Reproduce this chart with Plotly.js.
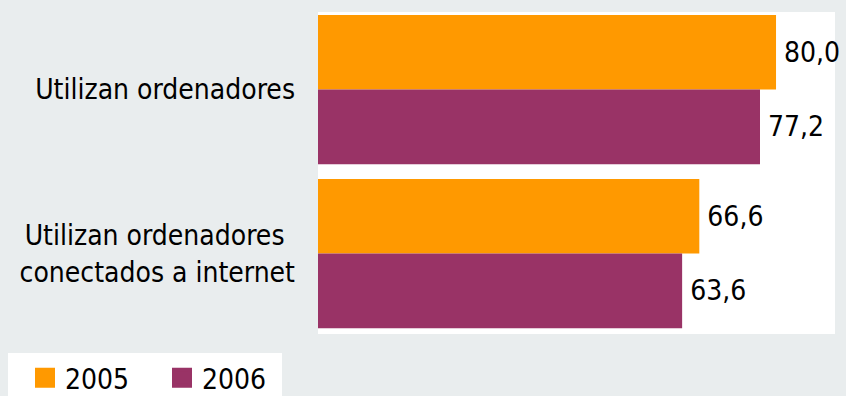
<!DOCTYPE html>
<html>
<head>
<meta charset="utf-8">
<script src="https://cdn.plot.ly/plotly-3.0.1.min.js"></script>
<style>html,body{margin:0;padding:0;background:#e9edee;}#chart{width:846px;height:396px;}</style>
</head>
<body>
<div id="chart"></div>
<script>
const categories = ["Utilizan ordenadores", "Utilizan ordenadores conectados a internet"];
const tickLabels = ["Utilizan ordenadores", "Utilizan ordenadores\u00a0\u200a<br>conectados a internet"];
const seriesNames = ["2005", "2006"];
const values2005 = [80.0, 66.6];
const values2006 = [77.2, 63.6];
const colors = ["#ff9900", "#993366"];

const FONT = "'DejaVu Sans Condensed', 'DejaVu Sans', sans-serif";
const series = [values2005, values2006];

const traces = [];
series.forEach((vals, i) => {
  traces.push({
    type: "bar",
    orientation: "h",
    y: categories,
    x: vals,
    name: seriesNames[i],
    marker: {color: colors[i], line: {width: 0}},
    text: vals,
    texttemplate: "\u2009%{x:.1f}",
    textposition: "outside",
    textfont: {family: FONT, size: 28, color: "#000"},
    constraintext: "none",
    cliponaxis: false,
    showlegend: false,
    hoverinfo: "none"
  });
});
// legend proxies (no data)
series.forEach((vals, i) => {
  traces.push({
    type: "scatter",
    mode: "markers",
    x: [null],
    y: [null],
    name: seriesNames[i],
    marker: {symbol: "square", size: 20, color: colors[i], line: {color: colors[i], width: 4}},
    showlegend: true,
    hoverinfo: "none"
  });
});

const layout = {
  width: 846,
  height: 396,
  paper_bgcolor: "#e9edee",
  plot_bgcolor: "#ffffff",
  separators: ",.",
  margin: {l: 318, r: 11, t: 12, b: 62, pad: 0},
  barmode: "group",
  bargap: 0.09,
  bargroupgap: 0,
  font: {family: FONT, size: 28, color: "#000"},
  xaxis: {
    range: [0, 90.3],
    showgrid: false,
    zeroline: false,
    showticklabels: false,
    ticks: "",
    showline: false,
    fixedrange: true
  },
  yaxis: {
    type: "category",
    categoryorder: "array",
    categoryarray: categories,
    tickvals: categories,
    ticktext: tickLabels,
    range: [1.49, -0.473],
    showgrid: false,
    zeroline: false,
    ticks: "",
    showline: false,
    ticklabelstandoff: 22,
    tickfont: {family: FONT, size: 28, color: "#000"},
    fixedrange: true
  },
  showlegend: true,
  legend: {
    orientation: "h",
    xref: "container",
    yref: "container",
    x: 8 / 846,
    xanchor: "left",
    y: 1 - 353 / 396,
    yanchor: "top",
    bgcolor: "#ffffff",
    borderwidth: 0,
    itemsizing: "trace",
    indentation: 17,
    entrywidth: 75,
    font: {family: FONT, size: 28, color: "#000"}
  }
};

Plotly.newPlot("chart", traces, layout, {displayModeBar: false, staticPlot: true});
</script>
</body>
</html>
